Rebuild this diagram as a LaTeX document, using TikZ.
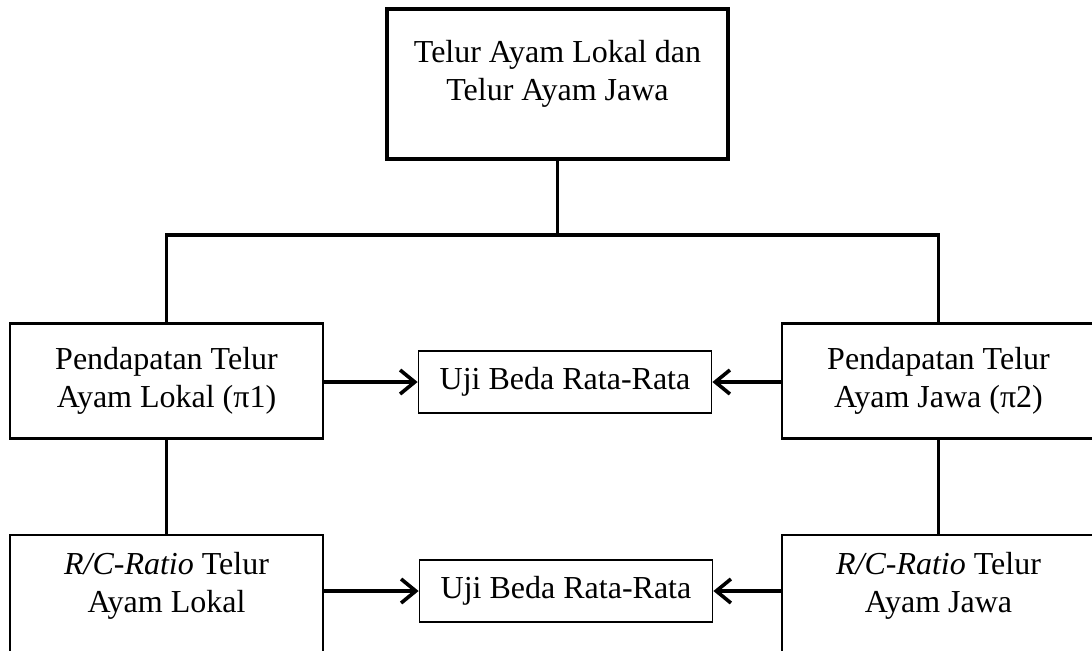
\documentclass[tikz,border=0pt]{standalone}
\usepackage{fontspec}
\setmainfont{Liberation Serif}
\usetikzlibrary{arrows.meta,positioning}

\tikzset{
    txt/.style={align=center, inner sep=0pt, font=\fontsize{12}{14}\selectfont},
    box/.style={txt, draw, line width=0.8pt, minimum width=117.4pt, minimum height=43.1pt},
    topbox/.style={draw, line width=1.2pt, minimum width=127.9pt, minimum height=56.25pt},
    ujibox/.style={txt, draw, line width=0.65pt, minimum width=109.9pt, minimum height=23.25pt},
    conn/.style={line width=1.35pt},
    >={Straight Barb[length=5.5pt,width=9pt]}
}

\begin{document}
\begin{tikzpicture}[x=0.375pt, y=-0.375pt]
    \useasboundingbox (0,0) rectangle (1092,650);
    \clip (0,0) rectangle (1092,650);

    % sumber data
    \node[topbox] (telur) at (557.5,84) {};
    \node[txt] (telurtxt) at (557.5,74) {Telur Ayam Lokal dan\\Telur Ayam Jawa};

    % pendapatan
    \node[box] (pendlokal) at (166.5,381) {Pendapatan Telur\\Ayam Lokal (π1)};
    \node[box] (pendjawa) at (938.5,381) {Pendapatan Telur\\Ayam Jawa (π2)};
    \node[ujibox] (ujipend) at (565,382) {Uji Beda Rata-Rata};

    % R/C ratio (kotak bawah terpotong)
    \node[box, minimum height=48.75pt] (rclokal) at (166.5,600) {};
    \node[txt] (rclokaltxt) at (166.5,586) {\textit{R/C-Ratio} Telur\\Ayam Lokal};
    \node[box, minimum height=48.75pt] (rcjawa) at (938.5,600) {};
    \node[txt] (rcjawatxt) at (938.5,586) {\textit{R/C-Ratio} Telur\\Ayam Jawa};
    \node[ujibox] (ujirc) at (566,591) {Uji Beda Rata-Rata};

    % garis penghubung
    \coordinate (bus) at (557.5,235);
    \draw[conn] (telur.south) -- (bus);
    \draw[conn] (pendlokal.north) |- (bus) -| (pendjawa.north);
    \draw[conn] (pendlokal.south) -- (rclokal.north);
    \draw[conn] (pendjawa.south) -- (rcjawa.north);

    % panah ke uji beda
    \draw[conn,->] (ujipend.west -| pendlokal.east) -- (ujipend.west);
    \draw[conn,->] (ujipend.east -| pendjawa.west) -- (ujipend.east);
    \draw[conn,->] (ujirc.west -| rclokal.east) -- (ujirc.west);
    \draw[conn,->] (ujirc.east -| rcjawa.west) -- (ujirc.east);
\end{tikzpicture}
\end{document}
